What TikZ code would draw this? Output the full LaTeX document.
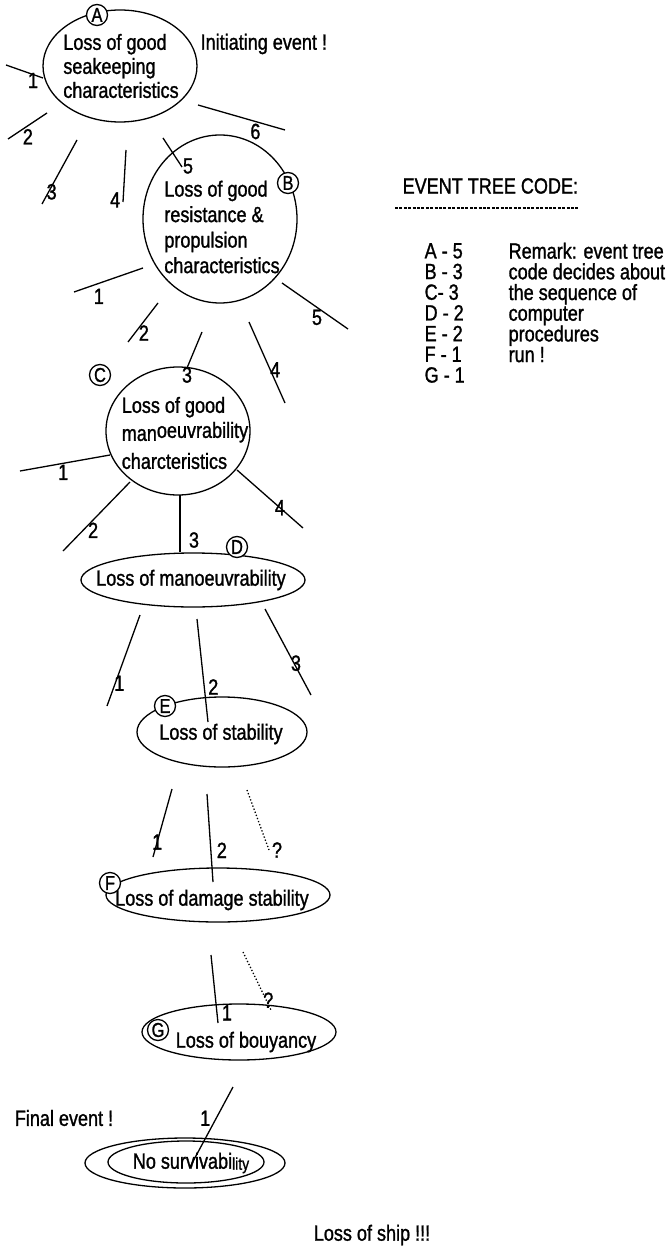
\documentclass[tikz,border=0pt]{standalone}
\usepackage{fontspec}
\setmainfont{Liberation Sans}[FakeStretch=0.82,FakeBold=1.2]
\usetikzlibrary{shapes.geometric}

\begin{document}
\begin{tikzpicture}[x=1pt,y=-1pt,line width=1.3pt,
  oval/.style={draw,ellipse,inner sep=0pt},
  evt/.style={align=left,inner sep=0pt,font=\fontsize{22}{24}\selectfont},
  tag/.style={draw,circle,fill=white,inner sep=0pt,minimum size=21pt,font=\fontsize{20}{20}\selectfont},
  lbl/.style={inner sep=0pt,font=\fontsize{22}{22}\selectfont},
  txt/.style={inner sep=0pt,font=\fontsize{22}{22}\selectfont}]
\useasboundingbox (0,0) rectangle (667,1246);

% event shapes
\node[oval,minimum width=154pt,minimum height=112pt] (A) at (120,66) {};
\node[oval,minimum width=154pt,minimum height=168pt] (B) at (220,219) {};
\node[oval,minimum width=144pt,minimum height=128pt] (C) at (178,431) {};
\node[oval,minimum width=224pt,minimum height=54pt] (D) at (193,580) {};
\node[oval,minimum width=170pt,minimum height=70pt] (E) at (222,732) {};
\node[oval,minimum width=224pt,minimum height=54pt] (F) at (218,895) {};
\node[oval,minimum width=194pt,minimum height=56pt] (G) at (239,1032) {};
\node[oval,minimum width=200pt,minimum height=50pt] (H) at (185,1163) {};
\node[oval,minimum width=156pt,minimum height=42pt] (Hin) at (186,1162) {};

% branch ends
\coordinate (a1s) at (43,78);   \coordinate (a1e) at (6,65);
\coordinate (a2s) at (47,113);  \coordinate (a2e) at (8,139);
\coordinate (a3s) at (77,140);  \coordinate (a3e) at (42,204);
\coordinate (a4s) at (126,150); \coordinate (a4e) at (123,202);
\coordinate (a5s) at (163,138); \coordinate (a5e) at (182,167);
\coordinate (a6s) at (198,105); \coordinate (a6e) at (285,130);
\coordinate (b1s) at (143,268); \coordinate (b1e) at (74,292);
\coordinate (b2s) at (158,303); \coordinate (b2e) at (128,342);
\coordinate (b3s) at (202,332); \coordinate (b3e) at (187,368);
\coordinate (b4s) at (249,322); \coordinate (b4e) at (285,403);
\coordinate (b5s) at (282,283); \coordinate (b5e) at (348,329);
\coordinate (c1s) at (110,455); \coordinate (c1e) at (20,471);
\coordinate (c2s) at (130,482); \coordinate (c2e) at (63,551);
\coordinate (c3s) at (180,495); \coordinate (c3e) at (180,552);
\coordinate (c4s) at (237,470); \coordinate (c4e) at (303,528);
\coordinate (d1s) at (140,615); \coordinate (d1e) at (107,706);
\coordinate (d2s) at (197,619); \coordinate (d2e) at (208,722);
\coordinate (d3s) at (265,609); \coordinate (d3e) at (311,695);
\coordinate (e1s) at (172,789); \coordinate (e1e) at (153,857);
\coordinate (e2s) at (207,794); \coordinate (e2e) at (213,882);
\coordinate (e3s) at (247,790); \coordinate (e3e) at (269,850);
\coordinate (f1s) at (211,955); \coordinate (f1e) at (218,1023);
\coordinate (f2s) at (243,952); \coordinate (f2e) at (271,1010);
\coordinate (g1s) at (233,1087); \coordinate (g1e) at (190,1167);

\draw (a1s) -- node[lbl,pos=.27,yshift=-6pt] {1} (a1e);
\draw (a2s) -- node[lbl,pos=.49,yshift=-11pt] {2} (a2e);
\draw (a3s) -- node[lbl,pos=.81,xshift=3pt] {3} (a3e);
\draw (a4s) -- node[lbl,pos=.96,xshift=-8pt] {4} (a4e);
\draw (a5s) -- node[lbl,pos=1,xshift=6pt,yshift=1pt] {5} (a5e);
\draw (a6s) -- node[lbl,pos=.66,yshift=-10pt] {6} (a6e);
\draw (b1s) -- node[lbl,pos=.64,yshift=-13pt] {1} (b1e);
\draw (b2s) -- node[lbl,pos=.77,xshift=9pt] {2} (b2e);
\draw (b3s) -- node[lbl,pos=1,yshift=-7pt] {3} (b3e);
\draw (b4s) -- node[lbl,pos=.59,xshift=5pt] {4} (b4e);
\draw (b5s) -- node[lbl,pos=.53,yshift=-10pt] {5} (b5e);
\draw (c1s) -- node[lbl,pos=.52,yshift=-9pt] {1} (c1e);
\draw (c2s) -- node[lbl,pos=.7,xshift=10pt] {2} (c2e);
\draw (c3s) -- node[lbl,pos=.79,xshift=14pt] {3} (c3e);
\draw (c4s) -- node[lbl,pos=.65] {4} (c4e);
\draw (d1s) -- node[lbl,pos=.75,xshift=4pt] {1} (d1e);
\draw (d2s) -- node[lbl,pos=.66,xshift=9pt] {2} (d2e);
\draw (d3s) -- node[lbl,pos=.63,xshift=2pt] {3} (d3e);
\draw (e1s) -- node[lbl,pos=.78] {1} (e1e);
\draw (e2s) -- node[lbl,pos=.64,xshift=11pt] {2} (e2e);
\draw[dotted] (e3s) -- node[lbl,pos=1,xshift=8pt] {?} (e3e);
\draw (f1s) -- node[lbl,pos=.85,xshift=10pt] {1} (f1e);
\draw[dotted] (f2s) -- node[lbl,pos=.83,xshift=2pt] {?} (f2e);
\draw (g1s) -- node[lbl,pos=.39,xshift=-11pt] {1} (g1e);

% texts in the events
\node[evt] (At) at (121,66) {Loss of good\\seakeeping\\characteristics};
\node[evt,font=\fontsize{22}{25.5}\selectfont] (Bt) at (222,227) {Loss of good\\resistance \&\\propulsion\\characteristics};
\node[evt,font=\fontsize{22}{28}\selectfont] (Ct) at (185,433) {Loss of good\\man\raisebox{3pt}{oeuvrability}\\charcteristics};
\node[evt] (Dt) at (191,580) {Loss of manoeuvrability};
\node[evt] (Et) at (221,734) {Loss of stability};
\node[evt] (Ft) at (212,900) {Loss of damage stability};
\node[evt] (Gt) at (246,1042) {Loss of bouyancy};
\node[evt] (Ht) at (191,1163) {No survivabi\raisebox{-1pt}{\fontsize{17}{17}\selectfont lity}};

% letter tags
\node[tag] (mA) at (97,15) {A};
\node[tag] (mB) at (288,183) {B};
\node[tag] (mC) at (100,375) {C};
\node[tag] (mD) at (237,547) {D};
\node[tag] (mE) at (165,706) {E};
\node[tag] (mF) at (110,883) {F};
\node[tag] (mG) at (158,1030) {G};

\node[txt,anchor=west] (init) at (200,44) {Initiating event !};
\node[txt] (fin) at (64,1118) {Final event !};
\node[txt] (ship) at (372,1235) {Loss of ship !!!};

% code table
\node[txt,anchor=west] (head) at (402,186) {EVENT TREE CODE:};
\coordinate (hl) at (395,208); \coordinate (hr) at (578,208);
\draw[line width=1.6pt,dash pattern=on 3pt off 1.4pt] (hl) -- (hr);
\node[txt,anchor=west,align=left,font=\fontsize{22}{20.7}\selectfont] (codes) at (424,313)
  {A - 5\\B - 3\\C- 3\\D - 2\\E - 2\\F - 1\\G - 1};
\node[txt,anchor=west,align=left,font=\fontsize{22}{20.7}\selectfont] (remark) at (508,302.5)
  {Remark: event tree\\code decides about\\the sequence of\\computer\\procedures\\run !};
\end{tikzpicture}
\end{document}
